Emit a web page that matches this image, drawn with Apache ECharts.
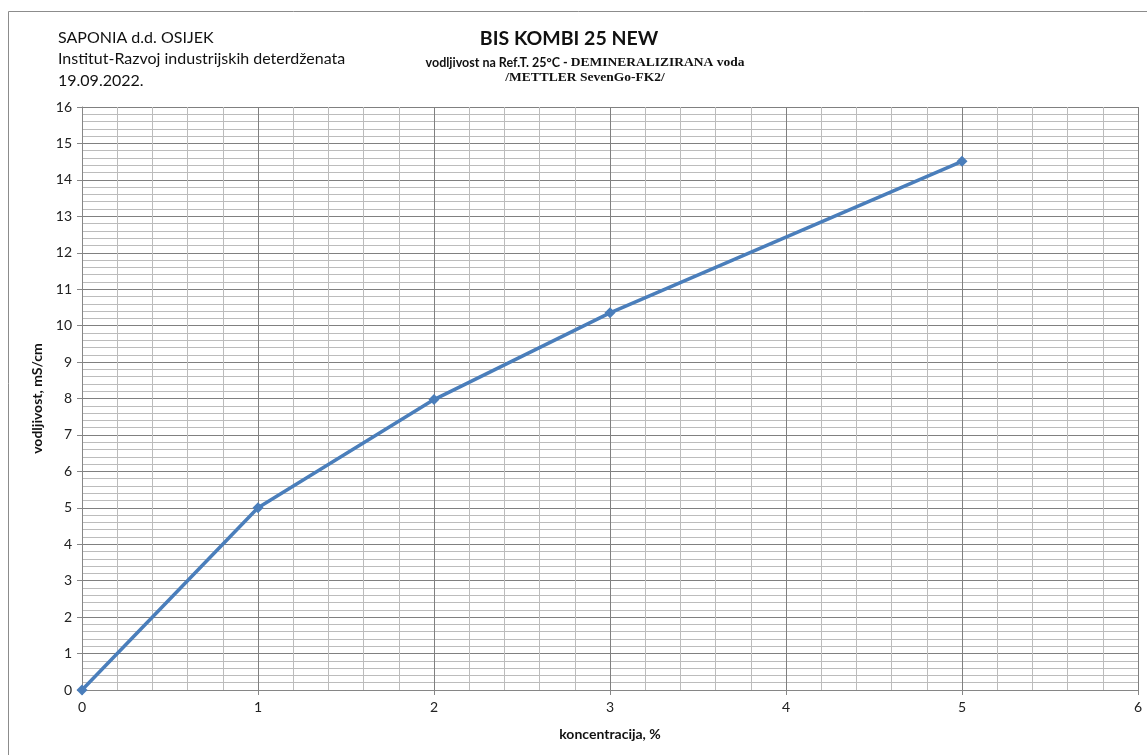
<!DOCTYPE html>
<html><head><meta charset="utf-8">
<script src="https://cdn.jsdelivr.net/npm/echarts@6/dist/echarts.min.js"></script>
<style>html,body{margin:0;padding:0;background:#fff}#c{width:1147px;height:755px}</style>
</head><body><div id="c"></div>
<script>
const concentration = [0, 1, 2, 3, 5];
const conductivity = [0, 5.0, 7.97, 10.35, 14.51];
const xTicks = [0, 1, 2, 3, 4, 5, 6];
const yTicks = [0, 1, 2, 3, 4, 5, 6, 7, 8, 9, 10, 11, 12, 13, 14, 15, 16];

const FONT = 'Lato, "Open Sans", sans-serif';
const chart = echarts.init(document.getElementById('c'));
chart.setOption({
  animation: false,
  backgroundColor: '#fff',
  grid: { left: 82, right: 9, top: 107, bottom: 65, containLabel: false },
  graphic: [
    { type: 'rect', shape: { x: 8.5, y: 11.5, width: 1200, height: 800 }, style: { fill: 'none', stroke: '#8c8c8c', lineWidth: 1 }, z: -1 },
    { type: 'text', left: 58, top: 27, style: { text: 'SAPONIA d.d. OSIJEK\nInstitut-Razvoj industrijskih deterdženata\n19.09.2022.', font: '16px ' + FONT, fill: '#111', lineHeight: 21.5 } },
    { type: 'text', x: 569, y: 29, style: { text: 'BIS KOMBI 25 NEW', font: 'bold 19.5px ' + FONT, fill: '#111', align: 'center', verticalAlign: 'top' } },
    { type: 'text', x: 585, y: 55, style: {
        text: '{a|vodljivost na Ref.T. 25°C - }{b|DEMINERALIZIRANA voda}\n{b|/METTLER SevenGo-FK2/}',
        align: 'center', verticalAlign: 'top', lineHeight: 15,
        rich: {
          a: { font: 'bold 12.5px ' + FONT, fill: '#111', lineHeight: 15 },
          b: { font: 'bold 13.5px "Liberation Serif", serif', fill: '#111', lineHeight: 15 }
        }
    } }
  ],
  xAxis: {
    type: 'value', min: xTicks[0], max: xTicks[xTicks.length - 1], interval: 1,
    name: 'koncentracija, %', nameLocation: 'middle', nameGap: 37,
    nameTextStyle: { fontFamily: FONT, fontWeight: 'bold', fontSize: 14, color: '#111' },
    axisLine: { show: true, lineStyle: { color: '#868686', width: 1 } },
    axisTick: { show: true, length: 5, lineStyle: { color: '#868686' } },
    axisLabel: { fontFamily: FONT, fontSize: 14, color: '#222', margin: 10 },
    splitLine: { show: true, lineStyle: { color: '#808080', width: 1 } },
    minorTick: { show: false, splitNumber: 5 },
    minorSplitLine: { show: true, lineStyle: { color: '#bcbcbc', width: 1 } }
  },
  yAxis: {
    type: 'value', min: yTicks[0], max: yTicks[yTicks.length - 1], interval: 1,
    name: 'vodljivost, mS/cm', nameLocation: 'middle', nameGap: 38, nameRotate: 90,
    nameTextStyle: { fontFamily: FONT, fontWeight: 'bold', fontSize: 14, color: '#111' },
    axisLine: { show: true, lineStyle: { color: '#868686', width: 1 } },
    axisTick: { show: true, length: 5, lineStyle: { color: '#868686' } },
    axisLabel: { fontFamily: FONT, fontSize: 14, color: '#222', margin: 10 },
    splitLine: { show: true, lineStyle: { color: '#808080', width: 1 } },
    minorTick: { show: false, splitNumber: 5 },
    minorSplitLine: { show: true, lineStyle: { color: '#bcbcbc', width: 1 } }
  },
  series: [{
    type: 'line',
    data: concentration.map((x, i) => [x, conductivity[i]]),
    symbol: 'diamond', symbolSize: 11,
    lineStyle: { color: '#4a7ebb', width: 3.5 },
    itemStyle: { color: '#4a7ebb' },
    z: 5
  }]
});
</script></body></html>
